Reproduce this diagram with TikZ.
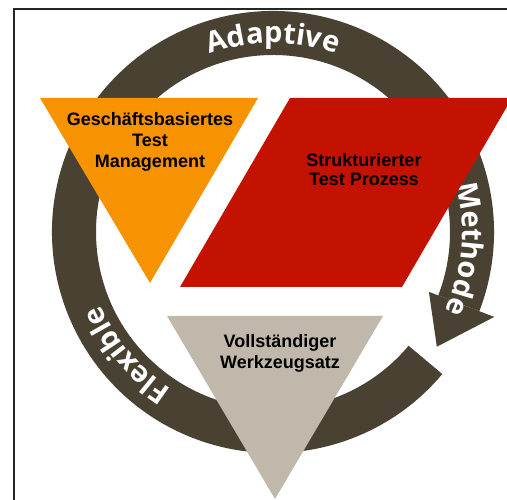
\documentclass[tikz,border=0pt]{standalone}
\usepackage{fontspec}
\setmainfont{Liberation Sans}
\newfontfamily\ringfont{Open Sans}
\usetikzlibrary{calc,decorations.text}
\definecolor{ringc}{RGB}{73,65,50}
\definecolor{orangec}{RGB}{247,146,0}
\definecolor{redc}{RGB}{195,18,0}
\definecolor{grayc}{RGB}{192,184,170}
\newcommand\ringtext{\ringfont\bfseries\fontsize{29}{29}\selectfont\color{white}}
\tikzset{
  lbl/.style={font=\bfseries\fontsize{18}{21}\selectfont, align=center, inner sep=0pt, text=black},
  ringlabel/.style={decorate, decoration={text along path, text align=center, text={|\ringtext|#1}}}
}
\begin{document}
\begin{tikzpicture}[x=1pt,y=1pt]
\useasboundingbox (0,0) rectangle (507,500);
\clip (0,0) rectangle (507,500);
\fill[white] (0,0) rectangle (507,500);
\draw[line width=1.3pt, black!85] (14,0) -- (14,491) -- (507,491);
\coordinate (C) at (273,268);
% ring
\fill[ringc] ($(C)+(-21:221)$) arc[start angle=-21,end angle=320,radius=221]
  -- ($(C)+(320:177)$) arc[start angle=320,end angle=-21,radius=177] -- cycle;
% arrow head
\fill[ringc] ($(C)+(-21:167)$) -- ($(C)+(-21:237)$) -- ($(C)+(-35:200)$) -- cycle;
% ring labels
\path[ringlabel=Adaptive] ($(C)+(150:189)$) arc[start angle=150,end angle=30,radius=189];
\path[ringlabel=Methode] ($(C)+(40:189)$) arc[start angle=40,end angle=-50,radius=189];
\path[ringlabel=Flexible] ($(C)+(260:187)$) arc[start angle=260,end angle=180,radius=187];
% shapes
\fill[orangec] (40,402) -- (258,402) -- (150,217) -- cycle;
\fill[redc] (290,402) -- (512,402) -- (402,213) -- (180,213) -- cycle;
\fill[grayc] (167,184) -- (383,184) -- (275,1) -- cycle;
% labels
\node[lbl] (gtm) at (150,358) {Geschäftsbasiertes\\Test\\Management};
\node[lbl, font=\bfseries\fontsize{18}{19}\selectfont] (stp) at (364,330) {Strukturierter\\Test Prozess};
\node[lbl] (vw) at (280,147) {Vollständiger\\Werkzeugsatz};
\end{tikzpicture}
\end{document}
